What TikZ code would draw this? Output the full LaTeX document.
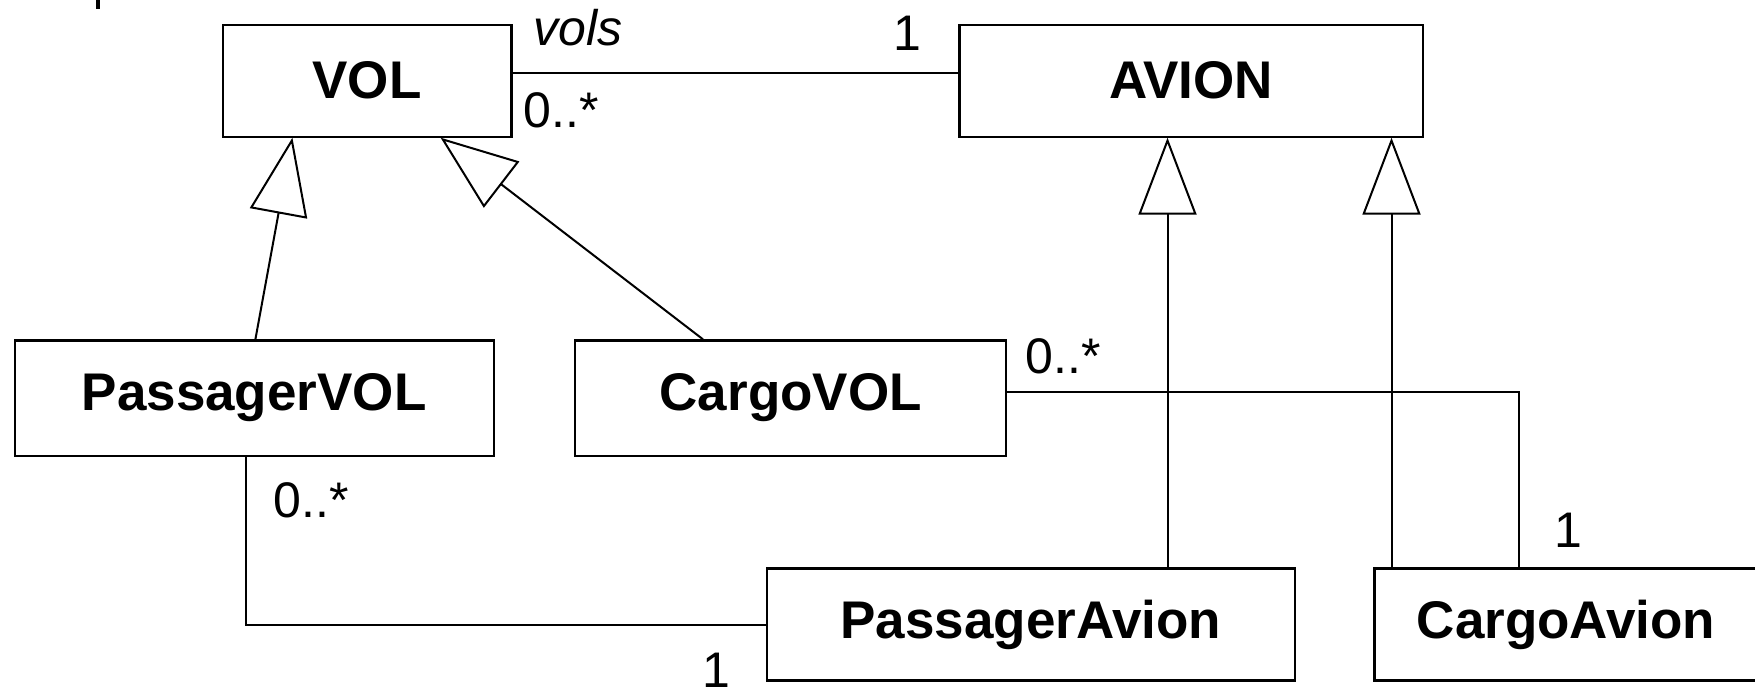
\documentclass[tikz,border=0pt]{standalone}
\usepackage{fontspec}
\setmainfont{Liberation Sans}
\usetikzlibrary{arrows.meta,calc}
\begin{document}
\begin{tikzpicture}[x=0.5pt,y=-0.5pt,
  cls/.style={draw, line width=1.1pt, inner sep=0pt, font=\fontsize{26.5}{30}\selectfont\bfseries},
  mult/.style={anchor=base west, inner sep=0pt, font=\fontsize{25}{29}\selectfont},
  assoc/.style={draw, line width=1pt},
  gen/.style={draw, line width=1pt, -{Triangle[open, length=38.5pt, width=29pt]}}]
\useasboundingbox (0,0) rectangle (1755,693);
% classes
\node[cls, minimum width=144.4pt, minimum height=56pt] (vol) at (367.1,80.6) {VOL};
\node[cls, minimum width=231.6pt, minimum height=56pt] (avion) at (1191,80.6) {AVION};
\node[cls, minimum width=239.5pt, minimum height=57.6pt] (pvol) at (254.1,398) {PassagerVOL};
\node[cls, minimum width=215.4pt, minimum height=57.6pt] (cvol) at (790.75,398) {CargoVOL};
\node[cls, minimum width=264.2pt, minimum height=56pt] (pav) at (1030.9,624.5) {PassagerAvion};
\node[cls, minimum width=191.5pt, minimum height=56pt] (cav) at (1566,624.5) {CargoAvion};
% cut-off mark top left
\fill (96,0) rectangle (100,9);
% associations
\draw[assoc] ([yshift=3.9pt]vol.east) -- ([yshift=3.9pt]avion.west);
\draw[assoc] ([yshift=3pt]cvol.east) -| ([xshift=-23.5pt]cav.north);
\draw[assoc] ([xshift=-4pt]pvol.south) |- (pav.west);
% generalisations
\draw[gen] ([xshift=0.65pt]pvol.north) -- ([xshift=-37.35pt]vol.south);
\draw[gen] ([xshift=-43.9pt]cvol.north) -- ([xshift=36.75pt]vol.south);
\coordinate (pavtop) at ([xshift=68.3pt]pav.north);
\coordinate (cavtop) at ([xshift=-87.25pt]cav.north);
\draw[gen] (pavtop) -- (pavtop |- avion.south);
\draw[gen] (cavtop) -- (cavtop |- avion.south);
% labels
\node[mult, font=\fontsize{25}{29}\selectfont\itshape] (lvols) at (533,45) {vols};
\node[mult] (m1) at (523,127) {0..*};
\node[mult] (m2) at (893,50) {1};
\node[mult] (m3) at (1025,373) {0..*};
\node[mult] (m4) at (273,517) {0..*};
\node[mult, text depth=0pt] (m5) at (702,687) {1};
\node[mult] (m6) at (1554,547) {1};
\end{tikzpicture}
\end{document}
